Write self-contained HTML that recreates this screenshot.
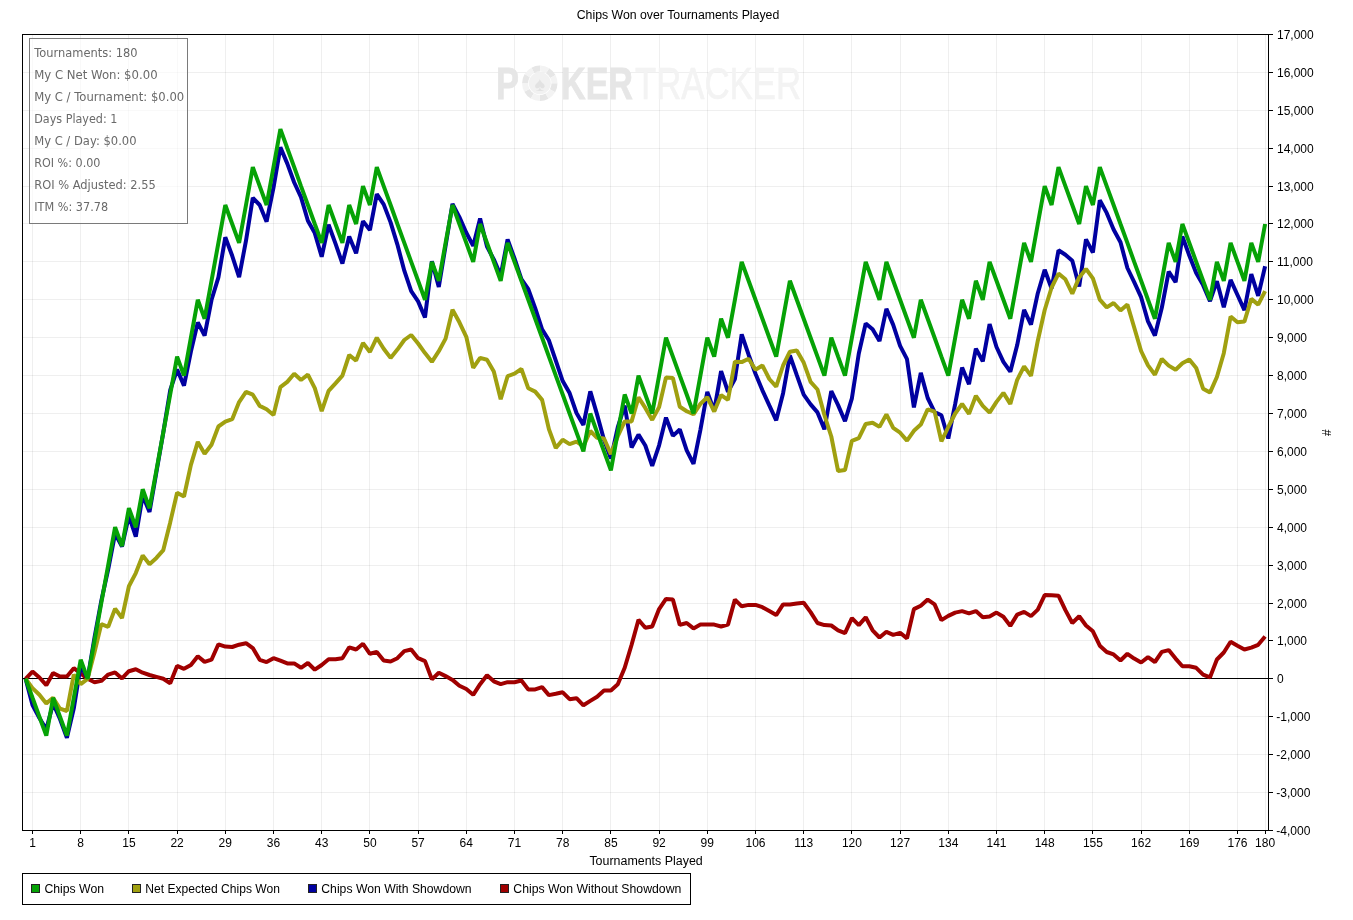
<!DOCTYPE html>
<html><head><meta charset="utf-8"><title>Chips Won over Tournaments Played</title>
<style>
html,body{margin:0;padding:0;background:#fff;}
body{width:1353px;height:920px;overflow:hidden;font-family:"Liberation Sans",Arial,sans-serif;}
svg{display:block;}
.t{font-family:"Liberation Sans",Arial,sans-serif;font-size:12px;fill:#000;}
.s{font-family:"DejaVu Sans","Liberation Sans",sans-serif;font-size:12px;fill:#6a6a6a;}
.g{stroke:#000;stroke-opacity:0.062;stroke-width:1;shape-rendering:crispEdges;}
.ln{fill:none;stroke-width:4;stroke-linejoin:bevel;stroke-linecap:butt;}
</style></head><body>
<svg width="1353" height="920" viewBox="0 0 1353 920">
<rect x="0" y="0" width="1353" height="920" fill="#fff"/>
<text class="t" x="576.7" y="19" textLength="202.6" lengthAdjust="spacingAndGlyphs">Chips Won over Tournaments Played</text>
<g class="g">
<line x1="32.5" y1="34.5" x2="32.5" y2="830.5"/><line x1="80.5" y1="34.5" x2="80.5" y2="830.5"/><line x1="128.5" y1="34.5" x2="128.5" y2="830.5"/><line x1="177.5" y1="34.5" x2="177.5" y2="830.5"/><line x1="225.5" y1="34.5" x2="225.5" y2="830.5"/><line x1="273.5" y1="34.5" x2="273.5" y2="830.5"/><line x1="321.5" y1="34.5" x2="321.5" y2="830.5"/><line x1="369.5" y1="34.5" x2="369.5" y2="830.5"/><line x1="418.5" y1="34.5" x2="418.5" y2="830.5"/><line x1="466.5" y1="34.5" x2="466.5" y2="830.5"/><line x1="514.5" y1="34.5" x2="514.5" y2="830.5"/><line x1="562.5" y1="34.5" x2="562.5" y2="830.5"/><line x1="610.5" y1="34.5" x2="610.5" y2="830.5"/><line x1="659.5" y1="34.5" x2="659.5" y2="830.5"/><line x1="707.5" y1="34.5" x2="707.5" y2="830.5"/><line x1="755.5" y1="34.5" x2="755.5" y2="830.5"/><line x1="803.5" y1="34.5" x2="803.5" y2="830.5"/><line x1="851.5" y1="34.5" x2="851.5" y2="830.5"/><line x1="900.5" y1="34.5" x2="900.5" y2="830.5"/><line x1="948.5" y1="34.5" x2="948.5" y2="830.5"/><line x1="996.5" y1="34.5" x2="996.5" y2="830.5"/><line x1="1044.5" y1="34.5" x2="1044.5" y2="830.5"/><line x1="1092.5" y1="34.5" x2="1092.5" y2="830.5"/><line x1="1141.5" y1="34.5" x2="1141.5" y2="830.5"/><line x1="1189.5" y1="34.5" x2="1189.5" y2="830.5"/><line x1="1237.5" y1="34.5" x2="1237.5" y2="830.5"/><line x1="1265.5" y1="34.5" x2="1265.5" y2="830.5"/><line x1="22.5" y1="830.5" x2="1268.5" y2="830.5"/><line x1="22.5" y1="792.5" x2="1268.5" y2="792.5"/><line x1="22.5" y1="754.5" x2="1268.5" y2="754.5"/><line x1="22.5" y1="716.5" x2="1268.5" y2="716.5"/><line x1="22.5" y1="678.5" x2="1268.5" y2="678.5"/><line x1="22.5" y1="640.5" x2="1268.5" y2="640.5"/><line x1="22.5" y1="603.5" x2="1268.5" y2="603.5"/><line x1="22.5" y1="565.5" x2="1268.5" y2="565.5"/><line x1="22.5" y1="527.5" x2="1268.5" y2="527.5"/><line x1="22.5" y1="489.5" x2="1268.5" y2="489.5"/><line x1="22.5" y1="451.5" x2="1268.5" y2="451.5"/><line x1="22.5" y1="413.5" x2="1268.5" y2="413.5"/><line x1="22.5" y1="375.5" x2="1268.5" y2="375.5"/><line x1="22.5" y1="337.5" x2="1268.5" y2="337.5"/><line x1="22.5" y1="299.5" x2="1268.5" y2="299.5"/><line x1="22.5" y1="261.5" x2="1268.5" y2="261.5"/><line x1="22.5" y1="223.5" x2="1268.5" y2="223.5"/><line x1="22.5" y1="186.5" x2="1268.5" y2="186.5"/><line x1="22.5" y1="148.5" x2="1268.5" y2="148.5"/><line x1="22.5" y1="110.5" x2="1268.5" y2="110.5"/><line x1="22.5" y1="72.5" x2="1268.5" y2="72.5"/><line x1="22.5" y1="34.5" x2="1268.5" y2="34.5"/></g>
<g id="wm" font-family="Liberation Sans,Arial,sans-serif" font-size="44">
<text x="496" y="99" font-weight="bold" fill="#e6e6e6" stroke="#e6e6e6" stroke-width="0.8" textLength="23" lengthAdjust="spacingAndGlyphs">P</text>
<text x="561" y="99" font-weight="bold" fill="#e6e6e6" stroke="#e6e6e6" stroke-width="0.8" textLength="72" lengthAdjust="spacingAndGlyphs">KER</text>
<circle cx="539.8" cy="83.3" r="14.7" fill="none" stroke="#e6e6e6" stroke-width="6" stroke-dasharray="7.7 7.7"/>
<circle cx="539.8" cy="83.3" r="14.7" fill="none" stroke="#f3f3f3" stroke-width="6" stroke-dasharray="7.7 7.7" stroke-dashoffset="7.7"/>
<circle cx="539.8" cy="83.3" r="11" fill="#f1f1f1"/>
<text x="539.8" y="91" font-size="20" text-anchor="middle" fill="#e2e2e2">&#9824;</text>
<text x="635" y="99" fill="#f3f3f3" stroke="#f3f3f3" stroke-width="0.7" textLength="166" lengthAdjust="spacingAndGlyphs">TRACKER</text>
</g>
<line x1="22.5" y1="678.5" x2="1268.5" y2="678.5" stroke="#000" stroke-width="1" shape-rendering="crispEdges"/>
<polyline class="ln" stroke="#a00000" points="25.6,678.8 32.5,671.6 39.4,677.5 46.3,685.2 53.1,673.1 60.0,676.5 66.9,676.5 73.8,668.2 80.7,673.5 87.6,678.8 94.5,682.2 101.3,680.9 108.2,674.6 115.1,672.4 122.0,678.4 128.9,671.2 135.8,669.3 142.7,672.7 149.5,675.0 156.4,676.9 163.3,678.8 170.2,683.2 177.1,665.9 184.0,668.8 190.9,665.0 197.8,656.2 204.6,661.9 211.5,659.7 218.4,644.3 225.3,646.6 232.2,647.0 239.1,644.7 246.0,643.2 252.8,648.1 259.7,659.8 266.6,662.1 273.5,658.2 280.4,660.7 287.3,663.4 294.2,663.4 301.0,667.8 307.9,663.0 314.8,669.7 321.7,665.0 328.6,659.2 335.5,659.2 342.4,658.2 349.2,647.3 356.1,649.5 363.0,643.8 369.9,653.8 376.8,651.9 383.7,660.5 390.6,661.5 397.4,658.2 404.3,651.1 411.2,649.5 418.1,658.2 425.0,661.1 431.9,679.4 438.8,672.7 445.6,676.1 452.5,679.9 459.4,685.7 466.3,689.0 473.2,694.8 480.1,684.2 487.0,675.2 493.8,681.3 500.7,684.2 507.6,682.2 514.5,682.2 521.4,680.5 528.3,689.4 535.2,689.4 542.1,687.1 548.9,695.1 555.8,693.8 562.7,692.3 569.6,699.2 576.5,698.2 583.4,705.3 590.3,700.9 597.1,696.7 604.0,690.5 610.9,690.5 617.8,684.2 624.7,667.8 631.6,644.8 638.5,619.8 645.3,627.8 652.2,626.5 659.1,609.1 666.0,598.9 672.9,599.6 679.8,624.9 686.7,623.0 693.5,628.4 700.4,624.6 707.3,624.6 714.2,624.6 721.1,626.5 728.0,624.6 734.9,599.6 741.7,606.3 748.6,604.9 755.5,604.9 762.4,607.2 769.3,611.1 776.2,615.1 783.1,604.4 789.9,604.4 796.8,603.4 803.7,602.8 810.6,612.1 817.5,623.0 824.4,625.1 831.3,625.5 838.1,630.3 845.0,633.2 851.9,618.2 858.8,625.1 865.7,617.3 872.6,630.3 879.5,637.5 886.4,631.8 893.2,634.8 900.1,632.8 907.0,638.4 913.9,609.1 920.8,605.7 927.7,599.6 934.6,604.4 941.4,620.1 948.3,615.9 955.2,612.6 962.1,611.1 969.0,613.4 975.9,611.1 982.8,617.3 989.6,616.5 996.5,612.6 1003.4,616.8 1010.3,625.9 1017.2,614.6 1024.1,611.9 1031.0,616.1 1037.8,609.6 1044.7,595.1 1051.6,595.3 1058.5,595.7 1065.4,610.1 1072.3,623.0 1079.2,616.3 1086.0,625.5 1092.9,631.3 1099.8,645.7 1106.7,652.0 1113.6,654.4 1120.5,660.5 1127.4,653.8 1134.2,658.6 1141.1,662.5 1148.0,657.2 1154.9,662.0 1161.8,651.9 1168.7,650.1 1175.6,658.6 1182.4,666.3 1189.3,666.3 1196.2,667.8 1203.1,674.6 1210.0,677.4 1216.9,659.5 1223.8,652.5 1230.6,641.8 1237.5,645.7 1244.4,649.5 1251.3,647.6 1258.2,644.8 1265.1,636.5"/>
<polyline class="ln" stroke="#0000a0" points="25.6,678.8 32.5,705.0 39.4,718.0 46.3,729.2 53.1,703.4 60.0,719.0 66.9,737.9 73.8,708.4 80.7,665.2 87.6,678.8 94.5,637.5 101.3,600.9 108.2,569.3 115.1,533.6 122.0,546.5 128.9,515.8 135.8,536.7 142.7,495.4 149.5,512.0 156.4,472.2 163.3,432.4 170.2,390.2 177.1,369.5 184.0,385.6 190.9,351.5 197.8,322.4 204.6,335.6 211.5,300.0 218.4,277.4 225.3,237.3 232.2,255.8 239.1,277.1 246.0,240.7 252.8,197.8 259.7,205.0 266.6,221.7 273.5,187.7 280.4,147.3 287.3,163.6 294.2,182.5 301.0,197.1 307.9,220.8 314.8,233.1 321.7,256.8 328.6,224.7 335.5,243.6 342.4,263.5 349.2,236.6 356.1,253.3 363.0,221.1 369.9,230.1 376.8,194.1 383.7,204.4 390.6,222.4 397.4,244.6 404.3,270.7 411.2,291.2 418.1,301.4 425.0,317.5 431.9,261.3 438.8,287.0 445.6,245.6 452.5,203.9 459.4,217.1 466.3,232.8 473.2,245.9 480.1,218.6 487.0,246.6 493.8,259.4 500.7,275.5 507.6,239.5 514.5,258.5 521.4,279.1 528.3,289.2 535.2,308.2 542.1,329.4 548.9,340.3 555.8,360.6 562.7,381.1 569.6,393.1 576.5,413.0 583.4,424.9 590.3,391.4 597.1,414.6 604.0,439.7 610.9,458.6 617.8,427.1 624.7,405.5 631.6,447.5 638.5,434.6 645.3,445.5 652.2,465.8 659.1,445.3 666.0,417.6 672.9,435.9 679.8,429.5 686.7,450.3 693.5,463.9 700.4,429.8 707.3,391.9 714.2,410.9 721.1,371.1 728.0,391.9 734.9,379.0 741.7,334.4 748.6,354.7 755.5,373.7 762.4,390.3 769.3,405.4 776.2,420.3 783.1,393.2 789.9,355.3 796.8,375.2 803.7,394.7 810.6,404.4 817.5,412.4 824.4,429.3 831.3,391.0 838.1,405.1 845.0,421.2 851.9,398.3 858.8,353.5 865.7,323.4 872.6,329.3 879.5,341.1 886.4,308.9 893.2,324.9 900.1,345.8 907.0,359.2 913.9,407.4 920.8,372.9 927.7,398.0 934.6,412.1 941.4,415.3 948.3,438.5 955.2,403.9 962.1,367.5 969.0,384.2 975.9,348.6 982.8,361.3 989.6,324.2 996.5,347.0 1003.4,361.8 1010.3,371.7 1017.2,345.1 1024.1,309.8 1031.0,324.6 1037.8,293.2 1044.7,269.8 1051.6,288.5 1058.5,250.3 1065.4,254.8 1072.3,260.8 1079.2,286.5 1086.0,239.4 1092.9,252.6 1099.8,200.2 1106.7,212.9 1113.6,229.5 1120.5,242.3 1127.4,268.0 1134.2,282.1 1141.1,297.2 1148.0,321.4 1154.9,335.5 1161.8,307.8 1168.7,271.6 1175.6,282.1 1182.4,236.5 1189.3,255.5 1196.2,272.9 1203.1,285.1 1210.0,301.2 1216.9,281.2 1223.8,307.2 1230.6,279.9 1237.5,295.0 1244.4,310.1 1251.3,274.1 1258.2,295.9 1265.1,266.3"/>
<polyline class="ln" stroke="#a0a010" points="25.6,678.8 32.5,688.1 39.4,694.7 46.3,703.4 53.1,697.8 60.0,708.7 66.9,711.0 73.8,674.6 80.7,684.1 87.6,678.8 94.5,652.3 101.3,624.1 108.2,626.9 115.1,608.6 122.0,618.0 128.9,586.3 135.8,573.1 142.7,555.6 149.5,564.2 156.4,557.9 163.3,550.1 170.2,522.4 177.1,492.7 184.0,496.5 190.9,464.9 197.8,441.9 204.6,453.7 211.5,444.7 218.4,426.5 225.3,421.7 232.2,419.2 239.1,402.1 246.0,391.9 252.8,394.7 259.7,405.9 266.6,409.3 273.5,415.0 280.4,387.2 287.3,381.9 294.2,373.7 301.0,380.0 307.9,374.7 314.8,388.1 321.7,411.2 328.6,390.9 335.5,383.3 342.4,375.6 349.2,355.0 356.1,360.6 363.0,342.9 369.9,352.0 376.8,337.7 383.7,348.7 390.6,357.9 397.4,349.6 404.3,340.0 411.2,335.0 418.1,343.5 425.0,353.1 431.9,361.8 438.8,351.2 445.6,338.6 452.5,309.8 459.4,322.3 466.3,336.8 473.2,367.9 480.1,357.9 487.0,359.8 493.8,371.4 500.7,399.2 507.6,376.2 514.5,373.7 521.4,369.0 528.3,388.3 535.2,391.6 542.1,399.9 548.9,429.1 555.8,448.0 562.7,439.7 569.6,444.1 576.5,441.6 583.4,446.4 590.3,431.0 597.1,437.8 604.0,438.5 610.9,454.1 617.8,436.2 624.7,421.4 631.6,421.4 638.5,397.4 645.3,407.9 652.2,419.9 659.1,407.1 666.0,377.4 672.9,378.0 679.8,406.8 686.7,411.2 693.5,414.3 700.4,403.9 707.3,397.2 714.2,411.6 721.1,395.1 728.0,399.9 734.9,361.7 741.7,362.1 748.6,358.8 755.5,369.7 762.4,365.5 769.3,379.0 776.2,386.6 783.1,365.5 789.9,351.7 796.8,350.6 803.7,362.6 810.6,381.9 817.5,389.5 824.4,415.0 831.3,436.5 838.1,471.1 845.0,470.1 851.9,440.8 858.8,438.1 865.7,424.0 872.6,422.7 879.5,426.9 886.4,414.4 893.2,427.9 900.1,432.7 907.0,440.6 913.9,430.8 920.8,424.6 927.7,409.3 934.6,411.6 941.4,441.4 948.3,427.0 955.2,413.5 962.1,403.9 969.0,413.9 975.9,395.8 982.8,405.8 989.6,412.6 996.5,401.9 1003.4,392.9 1010.3,403.9 1017.2,379.8 1024.1,366.4 1031.0,375.9 1037.8,340.7 1044.7,310.0 1051.6,287.5 1058.5,273.6 1065.4,279.3 1072.3,293.7 1079.2,277.4 1086.0,268.9 1092.9,278.4 1099.8,299.6 1106.7,307.4 1113.6,303.0 1120.5,310.4 1127.4,304.5 1134.2,327.5 1141.1,351.0 1148.0,365.4 1154.9,374.8 1161.8,358.9 1168.7,365.6 1175.6,369.7 1182.4,363.2 1189.3,359.5 1196.2,368.0 1203.1,388.7 1210.0,392.6 1216.9,377.0 1223.8,353.2 1230.6,316.5 1237.5,322.3 1244.4,321.6 1251.3,298.9 1258.2,304.6 1265.1,291.2"/>
<polyline class="ln" stroke="#06a206" points="25.6,678.8 32.5,697.8 39.4,716.7 46.3,735.6 53.1,697.8 60.0,716.7 66.9,735.6 73.8,697.8 80.7,659.8 87.6,678.8 94.5,640.9 101.3,603.0 108.2,565.1 115.1,527.2 122.0,546.1 128.9,508.2 135.8,527.2 142.7,489.3 149.5,508.2 156.4,470.3 163.3,432.4 170.2,394.5 177.1,356.6 184.0,375.6 190.9,337.7 197.8,299.8 204.6,318.7 211.5,280.8 218.4,242.9 225.3,205.0 232.2,224.0 239.1,242.9 246.0,205.0 252.8,167.1 259.7,186.1 266.6,205.0 273.5,167.1 280.4,129.2 287.3,148.2 294.2,167.1 301.0,186.1 307.9,205.0 314.8,224.0 321.7,242.9 328.6,205.0 335.5,224.0 342.4,242.9 349.2,205.0 356.1,224.0 363.0,186.1 369.9,205.0 376.8,167.1 383.7,186.1 390.6,205.0 397.4,224.0 404.3,242.9 411.2,261.9 418.1,280.8 425.0,299.8 431.9,261.9 438.8,280.8 445.6,242.9 452.5,205.0 459.4,224.0 466.3,242.9 473.2,261.9 480.1,224.0 487.0,242.9 493.8,261.9 500.7,280.8 507.6,242.9 514.5,261.9 521.4,280.8 528.3,299.8 535.2,318.7 542.1,337.7 548.9,356.6 555.8,375.6 562.7,394.5 569.6,413.5 576.5,432.4 583.4,451.4 590.3,413.5 597.1,432.4 604.0,451.4 610.9,470.3 617.8,432.4 624.7,394.5 631.6,413.5 638.5,375.6 645.3,394.5 652.2,413.5 659.1,375.6 666.0,337.7 672.9,356.6 679.8,375.6 686.7,394.5 693.5,413.5 700.4,375.6 707.3,337.7 714.2,356.6 721.1,318.7 728.0,337.7 734.9,299.8 741.7,261.9 748.6,280.8 755.5,299.8 762.4,318.7 769.3,337.7 776.2,356.6 783.1,318.7 789.9,280.8 796.8,299.8 803.7,318.7 810.6,337.7 817.5,356.6 824.4,375.6 831.3,337.7 838.1,356.6 845.0,375.6 851.9,337.7 858.8,299.8 865.7,261.9 872.6,280.8 879.5,299.8 886.4,261.9 893.2,280.8 900.1,299.8 907.0,318.7 913.9,337.7 920.8,299.8 927.7,318.7 934.6,337.7 941.4,356.6 948.3,375.6 955.2,337.7 962.1,299.8 969.0,318.7 975.9,280.8 982.8,299.8 989.6,261.9 996.5,280.8 1003.4,299.8 1010.3,318.7 1017.2,280.8 1024.1,242.9 1031.0,261.9 1037.8,224.0 1044.7,186.1 1051.6,205.0 1058.5,167.1 1065.4,186.1 1072.3,205.0 1079.2,224.0 1086.0,186.1 1092.9,205.0 1099.8,167.1 1106.7,186.1 1113.6,205.0 1120.5,224.0 1127.4,242.9 1134.2,261.9 1141.1,280.8 1148.0,299.8 1154.9,318.7 1161.8,280.8 1168.7,242.9 1175.6,261.9 1182.4,224.0 1189.3,242.9 1196.2,261.9 1203.1,280.8 1210.0,299.8 1216.9,261.9 1223.8,280.8 1230.6,242.9 1237.5,261.9 1244.4,280.8 1251.3,242.9 1258.2,261.9 1265.1,224.0"/>
<rect x="22.5" y="34.5" width="1246.0" height="796.0" fill="none" stroke="#000" stroke-width="1" shape-rendering="crispEdges"/>
<line x1="1268.5" y1="830.5" x2="1272.5" y2="830.5" stroke="#000" shape-rendering="crispEdges"/><text class="t" x="1276.2" y="834.5" textLength="34.2" lengthAdjust="spacingAndGlyphs">-4,000</text>
<line x1="1268.5" y1="792.5" x2="1272.5" y2="792.5" stroke="#000" shape-rendering="crispEdges"/><text class="t" x="1276.2" y="796.5" textLength="34.2" lengthAdjust="spacingAndGlyphs">-3,000</text>
<line x1="1268.5" y1="754.5" x2="1272.5" y2="754.5" stroke="#000" shape-rendering="crispEdges"/><text class="t" x="1276.2" y="758.5" textLength="34.2" lengthAdjust="spacingAndGlyphs">-2,000</text>
<line x1="1268.5" y1="716.5" x2="1272.5" y2="716.5" stroke="#000" shape-rendering="crispEdges"/><text class="t" x="1276.2" y="720.5" textLength="34.2" lengthAdjust="spacingAndGlyphs">-1,000</text>
<line x1="1268.5" y1="678.5" x2="1272.5" y2="678.5" stroke="#000" shape-rendering="crispEdges"/><text class="t" x="1277" y="682.5">0</text>
<line x1="1268.5" y1="640.5" x2="1272.5" y2="640.5" stroke="#000" shape-rendering="crispEdges"/><text class="t" x="1277" y="644.5">1,000</text>
<line x1="1268.5" y1="603.5" x2="1272.5" y2="603.5" stroke="#000" shape-rendering="crispEdges"/><text class="t" x="1277" y="607.5">2,000</text>
<line x1="1268.5" y1="565.5" x2="1272.5" y2="565.5" stroke="#000" shape-rendering="crispEdges"/><text class="t" x="1277" y="569.5">3,000</text>
<line x1="1268.5" y1="527.5" x2="1272.5" y2="527.5" stroke="#000" shape-rendering="crispEdges"/><text class="t" x="1277" y="531.5">4,000</text>
<line x1="1268.5" y1="489.5" x2="1272.5" y2="489.5" stroke="#000" shape-rendering="crispEdges"/><text class="t" x="1277" y="493.5">5,000</text>
<line x1="1268.5" y1="451.5" x2="1272.5" y2="451.5" stroke="#000" shape-rendering="crispEdges"/><text class="t" x="1277" y="455.5">6,000</text>
<line x1="1268.5" y1="413.5" x2="1272.5" y2="413.5" stroke="#000" shape-rendering="crispEdges"/><text class="t" x="1277" y="417.5">7,000</text>
<line x1="1268.5" y1="375.5" x2="1272.5" y2="375.5" stroke="#000" shape-rendering="crispEdges"/><text class="t" x="1277" y="379.5">8,000</text>
<line x1="1268.5" y1="337.5" x2="1272.5" y2="337.5" stroke="#000" shape-rendering="crispEdges"/><text class="t" x="1277" y="341.5">9,000</text>
<line x1="1268.5" y1="299.5" x2="1272.5" y2="299.5" stroke="#000" shape-rendering="crispEdges"/><text class="t" x="1277" y="303.5">10,000</text>
<line x1="1268.5" y1="261.5" x2="1272.5" y2="261.5" stroke="#000" shape-rendering="crispEdges"/><text class="t" x="1277" y="265.5">11,000</text>
<line x1="1268.5" y1="223.5" x2="1272.5" y2="223.5" stroke="#000" shape-rendering="crispEdges"/><text class="t" x="1277" y="227.5">12,000</text>
<line x1="1268.5" y1="186.5" x2="1272.5" y2="186.5" stroke="#000" shape-rendering="crispEdges"/><text class="t" x="1277" y="190.5">13,000</text>
<line x1="1268.5" y1="148.5" x2="1272.5" y2="148.5" stroke="#000" shape-rendering="crispEdges"/><text class="t" x="1277" y="152.5">14,000</text>
<line x1="1268.5" y1="110.5" x2="1272.5" y2="110.5" stroke="#000" shape-rendering="crispEdges"/><text class="t" x="1277" y="114.5">15,000</text>
<line x1="1268.5" y1="72.5" x2="1272.5" y2="72.5" stroke="#000" shape-rendering="crispEdges"/><text class="t" x="1277" y="76.5">16,000</text>
<line x1="1268.5" y1="34.5" x2="1272.5" y2="34.5" stroke="#000" shape-rendering="crispEdges"/><text class="t" x="1277" y="38.5">17,000</text>
<text class="t" x="1327" y="436.5" text-anchor="middle" transform="rotate(-90 1327 432.7)">#</text>
<line x1="32.5" y1="830.5" x2="32.5" y2="833.5" stroke="#000" shape-rendering="crispEdges"/><text class="t" x="32.5" y="847" text-anchor="middle">1</text>
<line x1="80.5" y1="830.5" x2="80.5" y2="833.5" stroke="#000" shape-rendering="crispEdges"/><text class="t" x="80.7" y="847" text-anchor="middle">8</text>
<line x1="128.5" y1="830.5" x2="128.5" y2="833.5" stroke="#000" shape-rendering="crispEdges"/><text class="t" x="128.9" y="847" text-anchor="middle">15</text>
<line x1="177.5" y1="830.5" x2="177.5" y2="833.5" stroke="#000" shape-rendering="crispEdges"/><text class="t" x="177.1" y="847" text-anchor="middle">22</text>
<line x1="225.5" y1="830.5" x2="225.5" y2="833.5" stroke="#000" shape-rendering="crispEdges"/><text class="t" x="225.3" y="847" text-anchor="middle">29</text>
<line x1="273.5" y1="830.5" x2="273.5" y2="833.5" stroke="#000" shape-rendering="crispEdges"/><text class="t" x="273.5" y="847" text-anchor="middle">36</text>
<line x1="321.5" y1="830.5" x2="321.5" y2="833.5" stroke="#000" shape-rendering="crispEdges"/><text class="t" x="321.7" y="847" text-anchor="middle">43</text>
<line x1="369.5" y1="830.5" x2="369.5" y2="833.5" stroke="#000" shape-rendering="crispEdges"/><text class="t" x="369.9" y="847" text-anchor="middle">50</text>
<line x1="418.5" y1="830.5" x2="418.5" y2="833.5" stroke="#000" shape-rendering="crispEdges"/><text class="t" x="418.1" y="847" text-anchor="middle">57</text>
<line x1="466.5" y1="830.5" x2="466.5" y2="833.5" stroke="#000" shape-rendering="crispEdges"/><text class="t" x="466.3" y="847" text-anchor="middle">64</text>
<line x1="514.5" y1="830.5" x2="514.5" y2="833.5" stroke="#000" shape-rendering="crispEdges"/><text class="t" x="514.5" y="847" text-anchor="middle">71</text>
<line x1="562.5" y1="830.5" x2="562.5" y2="833.5" stroke="#000" shape-rendering="crispEdges"/><text class="t" x="562.7" y="847" text-anchor="middle">78</text>
<line x1="610.5" y1="830.5" x2="610.5" y2="833.5" stroke="#000" shape-rendering="crispEdges"/><text class="t" x="610.9" y="847" text-anchor="middle">85</text>
<line x1="659.5" y1="830.5" x2="659.5" y2="833.5" stroke="#000" shape-rendering="crispEdges"/><text class="t" x="659.1" y="847" text-anchor="middle">92</text>
<line x1="707.5" y1="830.5" x2="707.5" y2="833.5" stroke="#000" shape-rendering="crispEdges"/><text class="t" x="707.3" y="847" text-anchor="middle">99</text>
<line x1="755.5" y1="830.5" x2="755.5" y2="833.5" stroke="#000" shape-rendering="crispEdges"/><text class="t" x="755.5" y="847" text-anchor="middle">106</text>
<line x1="803.5" y1="830.5" x2="803.5" y2="833.5" stroke="#000" shape-rendering="crispEdges"/><text class="t" x="803.7" y="847" text-anchor="middle">113</text>
<line x1="851.5" y1="830.5" x2="851.5" y2="833.5" stroke="#000" shape-rendering="crispEdges"/><text class="t" x="851.9" y="847" text-anchor="middle">120</text>
<line x1="900.5" y1="830.5" x2="900.5" y2="833.5" stroke="#000" shape-rendering="crispEdges"/><text class="t" x="900.1" y="847" text-anchor="middle">127</text>
<line x1="948.5" y1="830.5" x2="948.5" y2="833.5" stroke="#000" shape-rendering="crispEdges"/><text class="t" x="948.3" y="847" text-anchor="middle">134</text>
<line x1="996.5" y1="830.5" x2="996.5" y2="833.5" stroke="#000" shape-rendering="crispEdges"/><text class="t" x="996.5" y="847" text-anchor="middle">141</text>
<line x1="1044.5" y1="830.5" x2="1044.5" y2="833.5" stroke="#000" shape-rendering="crispEdges"/><text class="t" x="1044.7" y="847" text-anchor="middle">148</text>
<line x1="1092.5" y1="830.5" x2="1092.5" y2="833.5" stroke="#000" shape-rendering="crispEdges"/><text class="t" x="1092.9" y="847" text-anchor="middle">155</text>
<line x1="1141.5" y1="830.5" x2="1141.5" y2="833.5" stroke="#000" shape-rendering="crispEdges"/><text class="t" x="1141.1" y="847" text-anchor="middle">162</text>
<line x1="1189.5" y1="830.5" x2="1189.5" y2="833.5" stroke="#000" shape-rendering="crispEdges"/><text class="t" x="1189.3" y="847" text-anchor="middle">169</text>
<line x1="1237.5" y1="830.5" x2="1237.5" y2="833.5" stroke="#000" shape-rendering="crispEdges"/><text class="t" x="1237.5" y="847" text-anchor="middle">176</text>
<line x1="1265.5" y1="830.5" x2="1265.5" y2="833.5" stroke="#000" shape-rendering="crispEdges"/><text class="t" x="1265.1" y="847" text-anchor="middle">180</text>
<text class="t" x="589.4" y="865" textLength="113.4" lengthAdjust="spacingAndGlyphs">Tournaments Played</text>
<rect x="22.5" y="873.5" width="668" height="30.5" fill="#fff" stroke="#000" shape-rendering="crispEdges"/>
<rect x="31.5" y="884.5" width="8" height="8" fill="#06a206" stroke="#222" shape-rendering="crispEdges"/><text class="t" x="44.4" y="892.5" textLength="59.7" lengthAdjust="spacingAndGlyphs">Chips Won</text>
<rect x="132.5" y="884.5" width="8" height="8" fill="#a0a010" stroke="#222" shape-rendering="crispEdges"/><text class="t" x="145.3" y="892.5" textLength="134.6" lengthAdjust="spacingAndGlyphs">Net Expected Chips Won</text>
<rect x="308.5" y="884.5" width="8" height="8" fill="#0000a0" stroke="#222" shape-rendering="crispEdges"/><text class="t" x="321.3" y="892.5" textLength="150.3" lengthAdjust="spacingAndGlyphs">Chips Won With Showdown</text>
<rect x="500.5" y="884.5" width="8" height="8" fill="#a00000" stroke="#222" shape-rendering="crispEdges"/><text class="t" x="513.3" y="892.5" textLength="168" lengthAdjust="spacingAndGlyphs">Chips Won Without Showdown</text>
<rect x="29.5" y="38.5" width="158" height="184.500" fill="#fff" fill-opacity="0.6" stroke="#7a7a7a" shape-rendering="crispEdges"/>
<text class="s" x="34.2" y="57" textLength="103.3" lengthAdjust="spacingAndGlyphs">Tournaments: 180</text>
<text class="s" x="34.2" y="79" textLength="123.4" lengthAdjust="spacingAndGlyphs">My C Net Won: $0.00</text>
<text class="s" x="34.2" y="101" textLength="150" lengthAdjust="spacingAndGlyphs">My C / Tournament: $0.00</text>
<text class="s" x="34.2" y="123" textLength="83.2" lengthAdjust="spacingAndGlyphs">Days Played: 1</text>
<text class="s" x="34.2" y="145" textLength="102.3" lengthAdjust="spacingAndGlyphs">My C / Day: $0.00</text>
<text class="s" x="34.2" y="167" textLength="66.3" lengthAdjust="spacingAndGlyphs">ROI %: 0.00</text>
<text class="s" x="34.2" y="189" textLength="121.6" lengthAdjust="spacingAndGlyphs">ROI % Adjusted: 2.55</text>
<text class="s" x="34.2" y="211" textLength="73.9" lengthAdjust="spacingAndGlyphs">ITM %: 37.78</text>
</svg>
</body></html>
